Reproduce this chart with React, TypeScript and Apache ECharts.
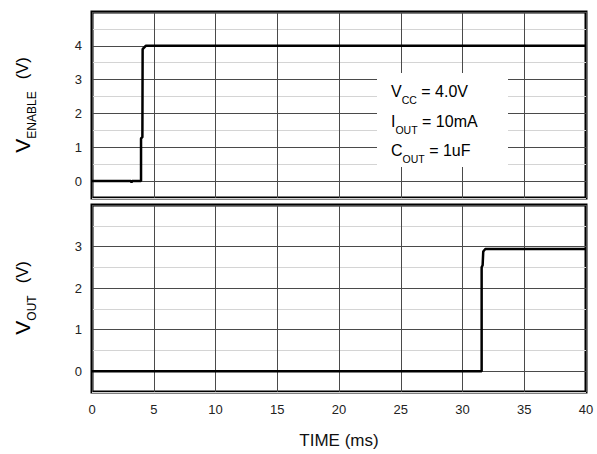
import React, { useEffect, useRef } from "react";
import * as echarts from "echarts";

const FONT = "'Liberation Sans', Arial, Helvetica, sans-serif";

// Top panel: enable voltage vs time
const timeEnable = [0, 3.15, 3.2, 3.25, 3.97, 3.97, 4.08, 4.1, 4.35, 40];
const vEnable = [0, 0, -0.04, 0, 0, 1.26, 1.3, 3.9, 4.0, 4.0];

// Bottom panel: output voltage vs time
const timeOut = [0, 31.55, 31.55, 31.63, 31.68, 31.85, 40];
const vOut = [0, 0, 2.5, 2.55, 2.88, 2.94, 2.94];

const xTicks = [0, 40, 5]; // min, max, interval
const topY = [-0.5, 5];
const botY = [-0.5, 4];

const annotationLines = [
  ["V", "CC", " = 4.0V"],
  ["I", "OUT", " = 10mA"],
  ["C", "OUT", " = 1uF"],
];

function intLabel(max: number) {
  return (v: number) => {
    const r = Math.round(v);
    if (Math.abs(v - r) < 1e-6 && r >= 0 && r < max - 1e-6) return String(r);
    return "";
  };
}

export default function App() {
  const ref = useRef<HTMLDivElement>(null);
  useEffect(() => {
    if (!ref.current) return;
    const chart = echarts.init(ref.current, undefined, { renderer: "svg" });
    const splitColors = ["#d4d4d4", "#4a4a4a"];
    const yAxisCommon = (range: number[], gridIndex: number) => ({
      type: "value",
      gridIndex,
      min: range[0],
      max: range[1],
      interval: 0.5,
      axisLine: { show: false },
      axisTick: { show: false },
      axisLabel: {
        formatter: intLabel(range[1]),
        fontFamily: FONT,
        fontSize: 13,
        color: "#222",
        margin: 10,
      },
      splitLine: { show: true, lineStyle: { color: splitColors, width: 1 } },
    });
    const xAxisCommon = (gridIndex: number, showLabels: boolean) => ({
      type: "value",
      gridIndex,
      min: xTicks[0],
      max: xTicks[1],
      interval: xTicks[2],
      axisLine: { show: false },
      axisTick: { show: false },
      axisLabel: {
        show: showLabels,
        fontFamily: FONT,
        fontSize: 13,
        color: "#222",
        margin: 11,
      },
      splitLine: { show: true, lineStyle: { color: "#4a4a4a", width: 1 } },
    });

    const richLabel = {
      a: { fontFamily: FONT, fontSize: 21, lineHeight: 32, color: "#111" },
      b: {
        fontFamily: FONT,
        fontSize: 12,
        lineHeight: 12,
        padding: [20, 0, 0, 0],
        color: "#111",
      },
      c: { fontFamily: FONT, fontSize: 16.5, lineHeight: 32, color: "#111", padding: [0, 0, 0, 12] },
    };
    const richAnno = {
      a: { fontFamily: FONT, fontSize: 16, lineHeight: 27, color: "#111" },
      b: {
        fontFamily: FONT,
        fontSize: 10.5,
        lineHeight: 10,
        padding: [17, 0, 0, 0],
        color: "#111",
      },
    };

    chart.setOption({
      animation: false,
      grid: [
        { left: 92, top: 12, width: 494, height: 186, show: true, borderColor: "#000", borderWidth: 3, backgroundColor: "transparent" },
        { left: 92, top: 205, width: 494, height: 187, show: true, borderColor: "#000", borderWidth: 3, backgroundColor: "transparent" },
      ],
      xAxis: [xAxisCommon(0, false), xAxisCommon(1, true)],
      yAxis: [yAxisCommon(topY, 0), yAxisCommon(botY, 1)],
      series: [
        {
          type: "line",
          xAxisIndex: 0,
          yAxisIndex: 0,
          data: timeEnable.map((t, i) => [t, vEnable[i]]),
          symbol: "none",
          lineStyle: { color: "#000", width: 2.5 },
          z: 5,
        },
        {
          type: "line",
          xAxisIndex: 1,
          yAxisIndex: 1,
          data: timeOut.map((t, i) => [t, vOut[i]]),
          symbol: "none",
          lineStyle: { color: "#000", width: 2.5 },
          z: 5,
        },
      ],
      graphic: [
        {
          type: "rect",
          shape: { x: 377, y: 73, width: 131, height: 94 },
          style: { fill: "#fff" },
          z: 1,
        },
        ...annotationLines.map((ln, i) => ({
          type: "text",
          x: 391,
          y: [91.5, 121.5, 150.5][i],
          z: 6,
          style: {
            text: `{a|${ln[0]}}{b|${ln[1]}}{a|${ln[2]}}`,
            rich: richAnno,
            align: "left",
            verticalAlign: "middle",
          },
        })),
        {
          type: "text",
          x: 22,
          y: 105,
          rotation: Math.PI / 2,
          z: 6,
          style: {
            text: "{a|V}{b|ENABLE}{c|(V)}",
            rich: richLabel,
            align: "center",
            verticalAlign: "middle",
          },
        },
        {
          type: "text",
          x: 22,
          y: 298,
          rotation: Math.PI / 2,
          z: 6,
          style: {
            text: "{a|V}{b|OUT}{c|(V)}",
            rich: richLabel,
            align: "center",
            verticalAlign: "middle",
          },
        },
        {
          type: "text",
          x: 339,
          y: 440,
          z: 6,
          style: {
            text: "TIME (ms)",
            fontFamily: FONT,
            fontSize: 17,
            fill: "#111",
            align: "center",
            verticalAlign: "middle",
          },
        },
      ],
    });
    return () => chart.dispose();
  }, []);
  return (
    <div
      ref={ref}
      style={{ position: "absolute", left: 0, top: 0, width: 597, height: 454 }}
    />
  );
}
